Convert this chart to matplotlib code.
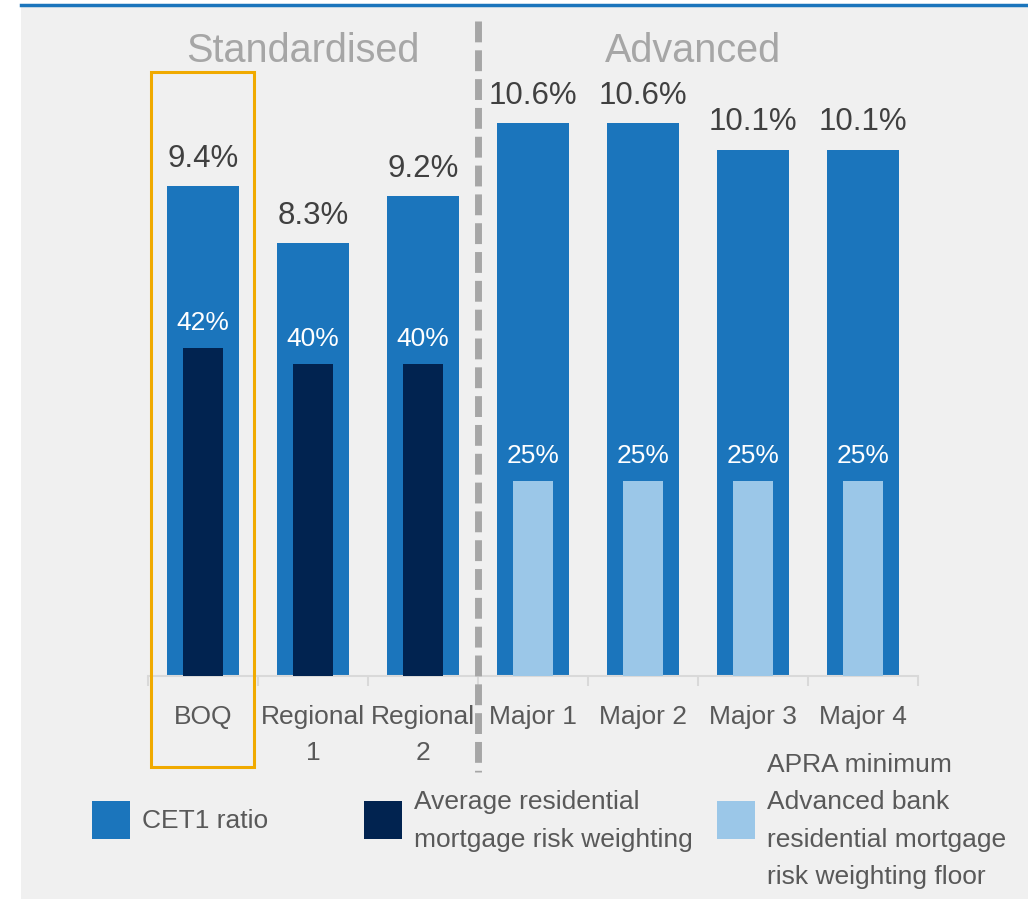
import matplotlib
matplotlib.use("Agg")
import matplotlib.pyplot as plt
from matplotlib import font_manager
from matplotlib.patches import Rectangle
from matplotlib.lines import Line2D

names = {f.name for f in font_manager.fontManager.ttflist}
FONT = "Liberation Sans Narrow" if "Liberation Sans Narrow" in names else "Liberation Sans"
plt.rcParams["font.family"] = [FONT, "DejaVu Sans"]

banks = ["BOQ", "Regional\n1", "Regional\n2", "Major 1", "Major 2", "Major 3", "Major 4"]
cet1 = [9.4, 8.3, 9.2, 10.6, 10.6, 10.1, 10.1]
risk_wt = [42, 40, 40, 25, 25, 25, 25]
is_advanced = [False, False, False, True, True, True, True]

BLUE = "#1b75bc"
NAVY = "#012350"
LIGHT = "#9bc7e8"
BG = "#f0f0f0"
GRAY_TXT = "#595959"
ORANGE = "#f0aa00"

W, H = 1028, 899
fig = plt.figure(figsize=(W / 100, H / 100), dpi=100)


def fx(px):
    return px / W


def fy(py):
    return 1 - py / H


# background panel and top rule
fig.patches.append(Rectangle((fx(21), 0), fx(1028 - 21), fy(7), transform=fig.transFigure,
                             facecolor=BG, edgecolor="none", zorder=-10))
fig.lines.append(Line2D([fx(21), 1], [fy(5), fy(5)], transform=fig.transFigure,
                        color=BLUE, lw=2.5, zorder=-5))

ax_top_px = 30
ax = fig.add_axes([fx(148), fy(676), fx(918 - 148), fy(ax_top_px) - fy(676)])
ax.set_facecolor("none")
ax2 = ax.twinx()

x = list(range(len(banks)))
px_per_pct = (676 - 186) / 9.4
ax.set_ylim(0, (676 - ax_top_px) / px_per_pct)
px_per_rw = (676 - 348) / 42
ax2.set_ylim(0, (676 - ax_top_px) / px_per_rw)
ax.set_xlim(-0.5, len(banks) - 0.5)

ax.bar(x, cet1, width=0.66, color=BLUE, zorder=1)
rw_cols = [LIGHT if a else NAVY for a in is_advanced]
ax2.bar(x, risk_wt, width=0.36, color=rw_cols, zorder=2)

for xi, v in zip(x, cet1):
    ax.annotate(f"{v:.1f}%", (xi, v), xytext=(0, 14), textcoords="offset points",
                ha="center", va="baseline", fontsize=22.5, color="#404040")
for xi, v in zip(x, risk_wt):
    ax2.annotate(f"{v}%", (xi, v), xytext=(0, 13), textcoords="offset points",
                 ha="center", va="baseline", fontsize=19, color="white")

for a in (ax, ax2):
    for s in ("top", "right", "left"):
        a.spines[s].set_visible(False)
    a.set_yticks([])
ax2.spines["bottom"].set_visible(False)
ax.spines["bottom"].set_color("#d9d9d9")
ax.spines["bottom"].set_linewidth(1.5)
ax.set_xticks(x)
ax.set_xticklabels(banks, fontsize=19, color=GRAY_TXT, linespacing=1.6)
ax.tick_params(axis="x", which="major", length=0, pad=21)
ax.set_xticks([i - 0.5 for i in range(len(banks) + 1)], minor=True)
ax.tick_params(axis="x", which="minor", length=7, width=1.5, color="#d9d9d9")

# section headings
fig.text(fx(303), fy(62), "Standardised", ha="center", va="baseline", fontsize=28.5, color="#a6a6a6")
fig.text(fx(693), fy(62), "Advanced", ha="center", va="baseline", fontsize=28.5, color="#a6a6a6")

# dashed divider
fig.lines.append(Line2D([fx(477.5), fx(477.5)], [fy(21), fy(772)], transform=fig.transFigure,
                        color="#a6a6a6", lw=5, dashes=(3, 1.15)))

# highlight box round BOQ
fig.patches.append(Rectangle((fx(151), fy(767)), fx(254 - 151), fy(72) - fy(767),
                             transform=fig.transFigure, facecolor="none",
                             edgecolor=ORANGE, lw=2.2, zorder=5))

# legend
legend_items = [
    (92, BLUE, "CET1 ratio"),
    (364, NAVY, "Average residential\nmortgage risk weighting"),
    (717, LIGHT, "APRA minimum\nAdvanced bank\nresidential mortgage\nrisk weighting floor"),
]
for lx, col, lab in legend_items:
    fig.patches.append(Rectangle((fx(lx), fy(839)), fx(38), fy(801) - fy(839),
                                 transform=fig.transFigure, facecolor=col, edgecolor="none"))
    fig.text(fx(lx + 50), fy(821), lab, ha="left", va="center", fontsize=19,
             color=GRAY_TXT, linespacing=1.7)

fig.savefig("out.png", dpi=100)
